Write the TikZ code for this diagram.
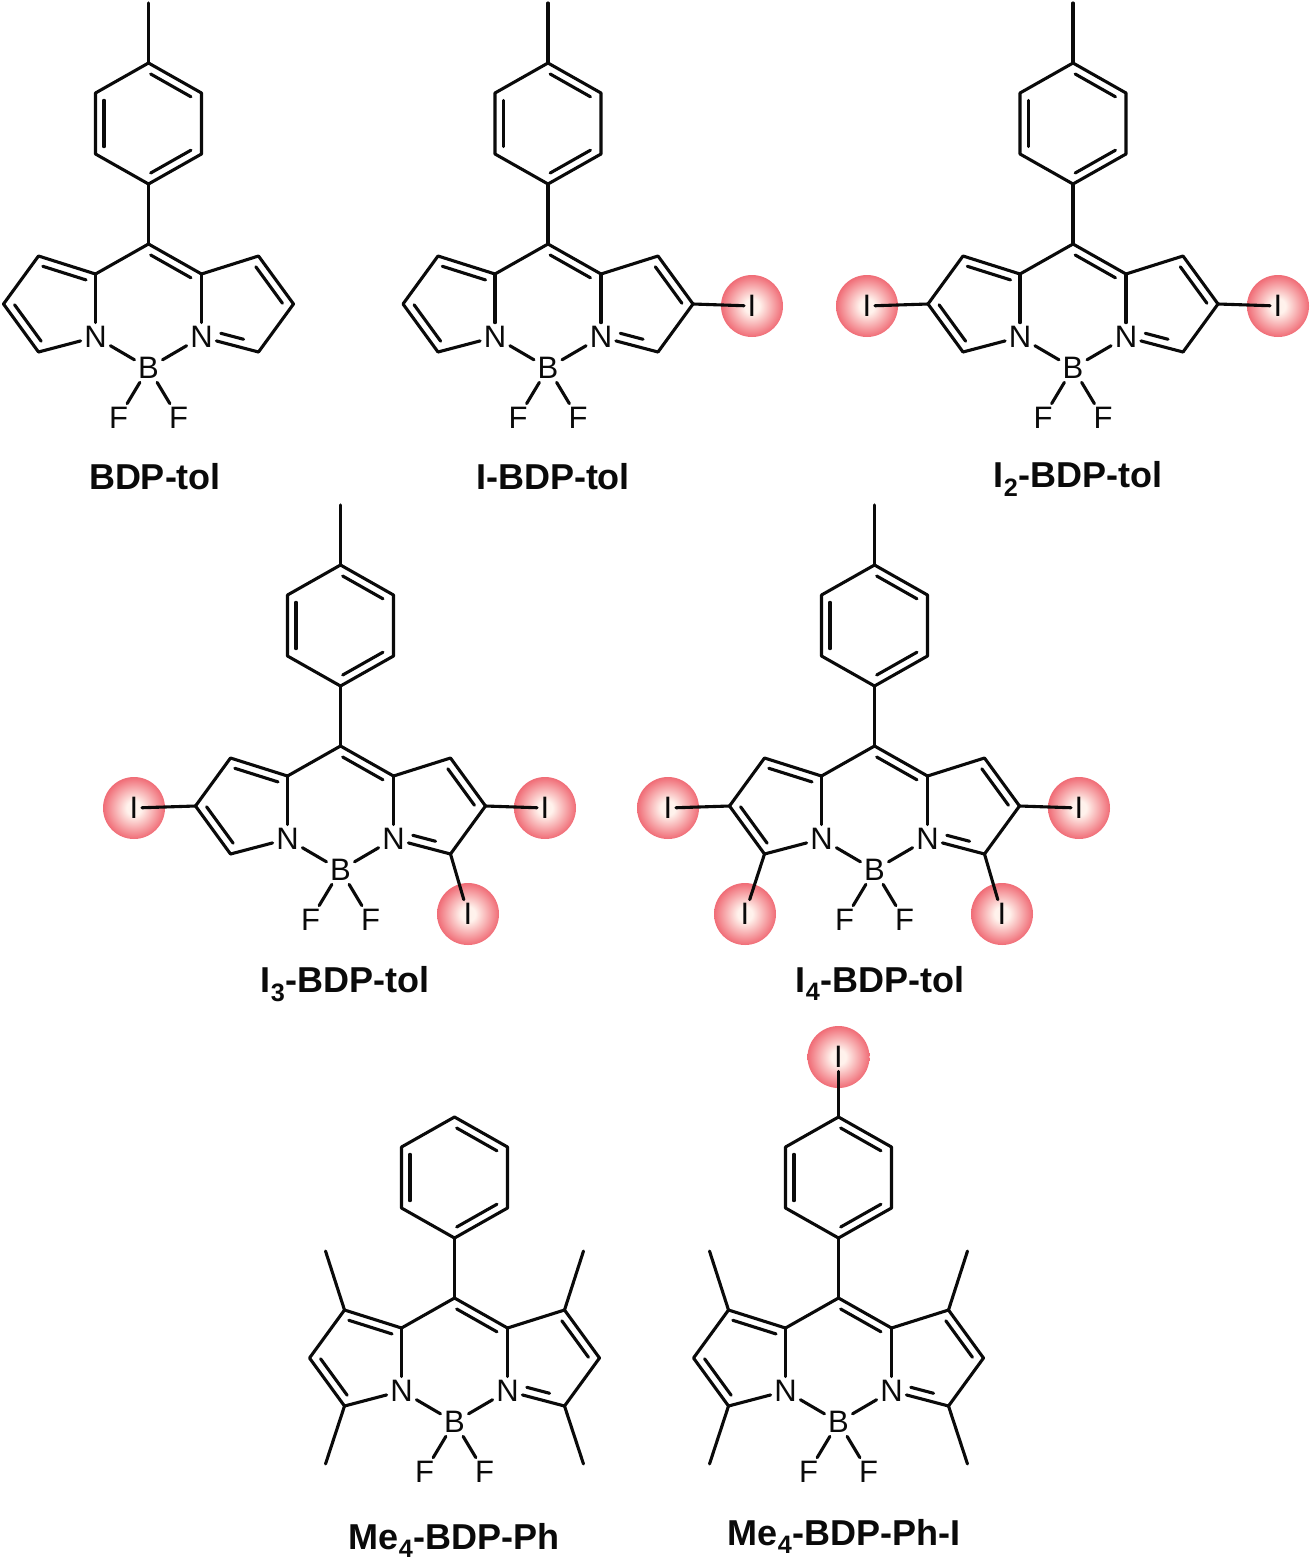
\documentclass[tikz,border=0pt]{standalone}
\usepackage{fontspec}
\setmainfont{Liberation Sans}
\usetikzlibrary{calc}
\usetikzlibrary{positioning}
\definecolor{mhalo}{RGB}{240, 108, 118}
\definecolor{mglow}{RGB}{255, 242, 236}
\definecolor{mink}{RGB}{10, 10, 10}
\pgfdeclareradialshading{halofill}{\pgfpointorigin}{color(0bp)=(mglow); color(6bp)=(mglow);
  color(25bp)=(mhalo); color(50bp)=(mhalo)}
\tikzset{bond/.style = {draw=mink, line width=3.1pt, line join=round, line cap=round},
         atom/.style = {inner sep=3.5pt, text=mink, font=\fontsize{31}{31}\selectfont},
         halo/.style = {circle, minimum size=62pt, inner sep=0pt, shade, shading=halofill},
         cpd/.style = {anchor=base, text=mink, font=\fontsize{36}{36}\selectfont\bfseries}}
% second line of a double bond, on the left of the way from #1 to #2
\newcommand{\dblbond}[3][.12]{
  \draw [bond] ($(#2)!#1!(#3)!8.5pt!90:(#3)$) -- ($(#3)!#1!(#2)!8.5pt!-90:(#2)$);
}
\newcommand{\iodine}[3]{
  \node [halo] (h#1) at (#2) {};
  \node [atom] (#1) at (h#1) {I};
  \draw [bond] (#3) -- (#1);
}
\newcommand{\methyl}[3]{
  \coordinate (#1) at ($(#2)+(#3)$);
  \draw [bond] (#2) -- (#1);
}
\tikzset{pics/bdpcore/.style = {code = {
    \coordinate (meso) at (0, 0);
    \coordinate (top) at (0, -181);
    \coordinate (ul) at (-53, -151);
    \coordinate (ur) at (53, -151);
    \coordinate (ll) at (-53, -90);
    \coordinate (lr) at (53, -90);
    \coordinate (bot) at (0, -60);
    \coordinate (aL) at (-53, 30);
    \coordinate (aR) at (53, 30);
    \coordinate (bL) at (-110, 12);
    \coordinate (bR) at (110, 12);
    \coordinate (gL) at (-145, 60);
    \coordinate (gR) at (145, 60);
    \coordinate (dL) at (-110, 108);
    \coordinate (dR) at (110, 108);
    \node [atom] (nL) at (-53, 93) {N};
    \node [atom] (nR) at (53, 93) {N};
    \node [atom] (bor) at (0, 124) {B};
    \node [atom] (fL) at (-30, 174) {F};
    \node [atom] (fR) at (30, 174) {F};

    \draw [bond] (top) -- (ul) -- (ll) -- (bot) -- (lr) -- (ur) -- cycle;
    \dblbond{ur}{top}
    \dblbond{ul}{ll}
    \dblbond{bot}{lr}
    \draw [bond] (bot) -- (meso);
    \draw [bond] (aL) -- (meso) -- (aR);
    \dblbond{aR}{meso}
    \draw [bond] (aL) -- (bL) -- (gL) -- (dL);
    \dblbond{aL}{bL}
    \dblbond{gL}{dL}
    \draw [bond] (aR) -- (bR) -- (gR) -- (dR);
    \dblbond{gR}{bR}
    \draw [bond] (dL) -- (nL);
    \draw [bond] (dR) -- (nR);
    \dblbond[.3]{nR}{dR}
    \draw [bond] (aL) -- (nL);
    \draw [bond] (aR) -- (nR);
    \draw [bond] (nL) -- (bor);
    \draw [bond] (nR) -- (bor);
    \draw [bond] (bor) -- (fL);
    \draw [bond] (bor) -- (fR);
}}}

\begin{document}
\begin{tikzpicture}[x=1pt, y=-1pt]
    \useasboundingbox (0, 0) rectangle (1311, 1561);

    % top row
    \pic (p) at (148.5, 244) {bdpcore};
    \methyl{pme}{ptop}{0, -60}
    \node [cpd] (plabel) at (155, 489) {BDP-tol};

    \pic (q) at (548, 244) {bdpcore};
    \methyl{qme}{qtop}{0, -60}
    \iodine{qia}{752, 306}{qgR}
    \node [cpd] (qlabel) at (553, 489) {I-BDP-tol};

    \pic (r) at (1073, 244) {bdpcore};
    \methyl{rme}{rtop}{0, -60}
    \iodine{ria}{867, 306}{rgL}
    \iodine{rib}{1278, 306}{rgR}
    \node [cpd] (rlabel) at (1078, 487) {I\textsubscript{2}-BDP-tol};

    % middle row
    \pic (s) at (340.5, 746) {bdpcore};
    \methyl{sme}{stop}{0, -60}
    \iodine{sia}{134, 808}{sgL}
    \iodine{sib}{545, 808}{sgR}
    \iodine{sic}{468, 914}{sdR}
    \node [cpd] (slabel) at (345, 992) {I\textsubscript{3}-BDP-tol};

    \pic (t) at (874.5, 746) {bdpcore};
    \methyl{tme}{ttop}{0, -60}
    \iodine{tia}{668, 808}{tgL}
    \iodine{tib}{1079, 808}{tgR}
    \iodine{tic}{745, 914}{tdL}
    \iodine{tid}{1002, 914}{tdR}
    \node [cpd] (tlabel) at (880, 992) {I\textsubscript{4}-BDP-tol};

    % bottom row
    \pic (u) at (454.5, 1298) {bdpcore};
    \methyl{uma}{ubL}{-19, -59}
    \methyl{umb}{ubR}{19, -59}
    \methyl{umc}{udL}{-19, 58}
    \methyl{umd}{udR}{19, 58}
    \node [cpd] (ulabel) at (454, 1549) {Me\textsubscript{4}-BDP-Ph};

    \pic (v) at (838.5, 1298) {bdpcore};
    \methyl{vma}{vbL}{-19, -59}
    \methyl{vmb}{vbR}{19, -59}
    \methyl{vmc}{vdL}{-19, 58}
    \methyl{vmd}{vdR}{19, 58}
    \iodine{via}{838.5, 1057}{vtop}
    \node [cpd] (vlabel) at (844, 1545) {Me\textsubscript{4}-BDP-Ph-I};
\end{tikzpicture}
\end{document}
